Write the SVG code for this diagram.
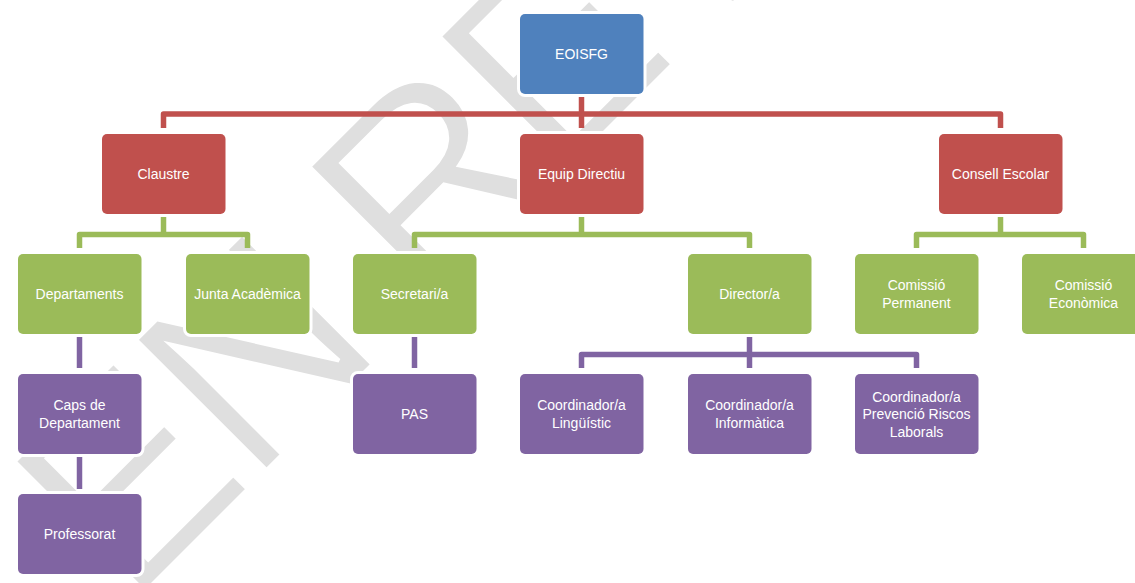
<svg xmlns="http://www.w3.org/2000/svg" width="1135" height="583" viewBox="0 0 1135 583">
<style>
.node rect{stroke:#ffffff;stroke-width:6;paint-order:stroke}
.blue rect{fill:#4F81BD}
.red rect{fill:#C0504D}
.green rect{fill:#9BBB59}
.purple rect{fill:#8064A2}
.node text{fill:#ffffff;font-family:"Liberation Sans",Arial,sans-serif;font-size:14px;text-anchor:middle}
.conn path{fill:none;stroke-width:5.5;stroke-linejoin:round;stroke-linecap:butt}
.c-red{stroke:#C0504D}
.c-green{stroke:#9BBB59}
.c-purple{stroke:#8064A2}
.wm{fill:#dfdfdf;stroke:#ffffff;stroke-width:4;stroke-linejoin:miter;font-family:"Liberation Sans",Arial,sans-serif;font-size:268px}
</style>
<rect width="1135" height="583" fill="#ffffff"/>
<text class="wm" transform="rotate(-45)" x="-338 -166 40 79 263 440 617 691 868 942" y="521">EN REVISIÓ</text>
<g id="connectors" class="conn">
<path class="c-red" d="M581.5,96.5V128"/>
<path class="c-red" d="M163.5,128V114H1000.5V128"/>
<path class="c-green" d="M163.5,217V234.5"/>
<path class="c-green" d="M79.5,248V234.5H247.5V248"/>
<path class="c-green" d="M581.5,217V234.5"/>
<path class="c-green" d="M414.5,248V234.5H749.5V248"/>
<path class="c-green" d="M1000.5,217V234.5"/>
<path class="c-green" d="M916.5,248V234.5H1083.5V248"/>
<path class="c-purple" d="M79.5,337V368"/>
<path class="c-purple" d="M79.5,457V489"/>
<path class="c-purple" d="M414.5,337V368"/>
<path class="c-purple" d="M749.5,337V368"/>
<path class="c-purple" d="M581.5,368V354.5H916.5V368"/>
</g>
<g id="n-eoisfg" class="node blue"><rect x="520" y="14" width="123.5" height="80" rx="5"/><text x="581.5" y="59">EOISFG</text></g>
<g id="n-claustre" class="node red"><rect x="102" y="134" width="123.5" height="80" rx="5"/><text x="163.5" y="179">Claustre</text></g>
<g id="n-equip" class="node red"><rect x="520" y="134" width="123.5" height="80" rx="5"/><text x="581.5" y="179">Equip Directiu</text></g>
<g id="n-consell" class="node red"><rect x="939" y="134" width="123.5" height="80" rx="5"/><text x="1000.5" y="179">Consell Escolar</text></g>
<g id="n-departaments" class="node green"><rect x="18" y="254" width="123.5" height="80" rx="5"/><text x="79.5" y="299">Departaments</text></g>
<g id="n-junta" class="node green"><rect x="186" y="254" width="123.5" height="80" rx="5"/><text x="247.5" y="299">Junta Acadèmica</text></g>
<g id="n-secretari" class="node green"><rect x="353" y="254" width="123.5" height="80" rx="5"/><text x="414.5" y="299">Secretari/a</text></g>
<g id="n-director" class="node green"><rect x="688" y="254" width="123.5" height="80" rx="5"/><text x="749.5" y="299">Director/a</text></g>
<g id="n-permanent" class="node green"><rect x="855" y="254" width="123.5" height="80" rx="5"/><text x="916.5" y="290">Comissió</text><text x="916.5" y="308">Permanent</text></g>
<g id="n-economica" class="node green"><rect x="1022" y="254" width="123.5" height="80" rx="5"/><text x="1083.5" y="290">Comissió</text><text x="1083.5" y="308">Econòmica</text></g>
<g id="n-caps" class="node purple"><rect x="18" y="374" width="123.5" height="80" rx="5"/><text x="79.5" y="410">Caps de</text><text x="79.5" y="428">Departament</text></g>
<g id="n-pas" class="node purple"><rect x="353" y="374" width="123.5" height="80" rx="5"/><text x="414.5" y="419">PAS</text></g>
<g id="n-linguistic" class="node purple"><rect x="520" y="374" width="123.5" height="80" rx="5"/><text x="581.5" y="410">Coordinador/a</text><text x="581.5" y="428">Lingüístic</text></g>
<g id="n-informatica" class="node purple"><rect x="688" y="374" width="123.5" height="80" rx="5"/><text x="749.5" y="410">Coordinador/a</text><text x="749.5" y="428">Informàtica</text></g>
<g id="n-riscos" class="node purple"><rect x="855" y="374" width="123.5" height="80" rx="5"/><text x="916.5" y="401.5">Coordinador/a</text><text x="916.5" y="419">Prevenció Riscos</text><text x="916.5" y="436.5">Laborals</text></g>
<g id="n-professorat" class="node purple"><rect x="18" y="494" width="123.5" height="80" rx="5"/><text x="79.5" y="539">Professorat</text></g>
</svg>
